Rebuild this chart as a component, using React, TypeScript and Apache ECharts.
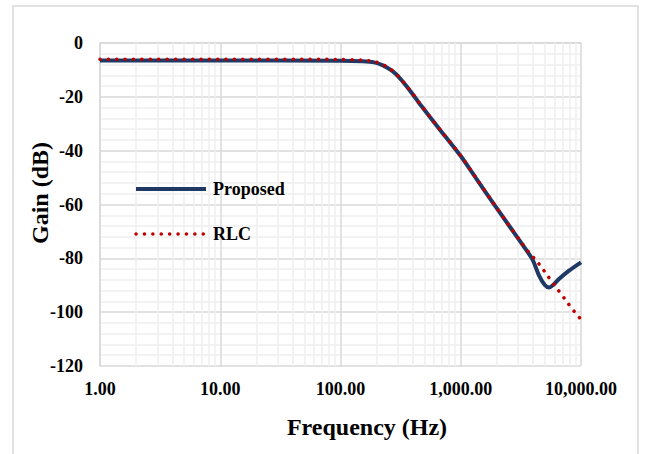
import React, { useEffect, useRef } from "react";
import * as echarts from "echarts";

const proposedFreq = [1, 10, 100, 150, 190, 225, 260, 290, 325, 362, 403, 447, 498, 548, 623, 707, 788, 1000, 1337, 1836, 2525, 3260, 3945, 4480, 5000, 5420, 5900, 6560, 7950, 10000];
const proposedGain = [-6.5, -6.5, -6.6, -6.8, -7.2, -8.3, -9.9, -11.6, -14.0, -16.6, -19.3, -22.1, -24.8, -27.2, -30.4, -33.5, -36.1, -42.0, -50.2, -59.1, -67.9, -74.9, -80.4, -86.4, -89.9, -90.8, -89.8, -87.7, -84.6, -81.5];

const rlcFreq = [1, 10, 100, 150, 166, 195, 224, 258, 290, 325, 362, 403, 447, 498, 548, 623, 707, 788, 1000, 1337, 1836, 2525, 3260, 3700, 4200, 4620, 5090, 6080, 7360, 8920, 10000];
const rlcGain = [-6.0, -6.0, -6.1, -6.3, -6.5, -7.0, -8.0, -9.6, -11.5, -13.9, -16.5, -19.2, -22.0, -24.7, -27.1, -30.3, -33.4, -36.0, -41.9, -50.1, -59.0, -67.8, -74.7, -77.9, -80.6, -82.9, -85.5, -90.2, -95.2, -100.1, -102.7];

const seriesNames = ["Proposed", "RLC"];
const minorFreqs = [2, 3, 4, 5, 6, 7, 8, 9, 20, 30, 40, 50, 60, 70, 80, 90, 200, 300, 400, 500, 600, 700, 800, 900, 2000, 3000, 4000, 5000, 6000, 7000, 8000, 9000];
const xTitle = "Frequency (Hz)";
const yTitle = "Gain (dB)";

const FONT = "'Liberation Serif', 'Times New Roman', serif";
const BLUE = "#1f3864";
const RED = "#c00000";
const DOTS = [0.1, 8.3];

function fmt(v: number) {
  return v.toLocaleString("en-US", { minimumFractionDigits: 2, maximumFractionDigits: 2 });
}

export default function App() {
  const ref = useRef<HTMLDivElement>(null);
  useEffect(() => {
    if (!ref.current) return;
    const chart = echarts.init(ref.current, null, { renderer: "svg" });
    chart.setOption({
      animation: false,
      backgroundColor: "#ffffff",
      grid: { left: 100, right: 64, top: 43, bottom: 88, containLabel: false },
      legend: {
        data: [
          { name: seriesNames[0], itemStyle: { opacity: 0 }, lineStyle: { color: BLUE, width: 4, type: "solid" } },
          { name: seriesNames[1], itemStyle: { opacity: 0 }, lineStyle: { color: RED, width: 3.5, type: DOTS, cap: "round" } },
        ],
        orient: "vertical",
        left: 134,
        top: 179,
        padding: 0,
        itemWidth: 70,
        itemHeight: 14,
        itemGap: 25,
        z: 10,
        selectedMode: false,
        textStyle: { fontFamily: FONT, fontWeight: "bold", fontSize: 18, color: "#000", lineHeight: 20, padding: [0, 0, 0, 2] },
      },
      xAxis: {
        type: "log",
        logBase: 10,
        min: 1,
        max: 10000,
        axisLine: { show: true, lineStyle: { color: "#d9d9d9", width: 1.5 } },
        axisTick: { show: false },
        splitLine: { show: true, lineStyle: { color: "#d9d9d9", width: 1.5 } },
        axisLabel: {
          fontFamily: FONT,
          fontWeight: "bold",
          fontSize: 18,
          color: "#000",
          margin: 14,
          formatter: (v: number) => fmt(v),
        },
      },
      yAxis: {
        type: "value",
        min: -120,
        max: 0,
        interval: 20,
        axisLine: { show: true, lineStyle: { color: "#d9d9d9", width: 1.5 } },
        axisTick: { show: false },
        splitLine: { show: true, lineStyle: { color: "#d9d9d9", width: 1.5 } },
        minorTick: { show: false, splitNumber: 5 },
        minorSplitLine: { show: true, lineStyle: { color: "#efefef", width: 1.5 } },
        axisLabel: {
          fontFamily: FONT,
          fontWeight: "bold",
          fontSize: 18,
          color: "#000",
          margin: 17,
        },
      },
      graphic: [
        {
          type: "rect",
          shape: { x: 13, y: 6, width: 625, height: 470 },
          style: { fill: "none", stroke: "#d9d9d9", lineWidth: 1.5 },
          silent: true,
          z: -10,
        },
        {
          type: "text",
          x: 40,
          y: 193,
          rotation: Math.PI / 2,
          style: {
            text: yTitle,
            fontFamily: FONT,
            fontWeight: "bold",
            fontSize: 24,
            fill: "#000",
            textAlign: "center",
            textVerticalAlign: "middle",
          },
        },
        {
          type: "text",
          x: 367,
          y: 427,
          style: {
            text: xTitle,
            fontFamily: FONT,
            fontWeight: "bold",
            fontSize: 24,
            fill: "#000",
            textAlign: "center",
            textVerticalAlign: "middle",
          },
        },
      ],
      series: [
        {
          name: "minor",
          type: "line",
          data: [],
          silent: true,
          z: 1,
          markLine: {
            silent: true,
            symbol: "none",
            z: 1,
            label: { show: false },
            animation: false,
            lineStyle: { color: "#efefef", width: 1.5, type: "solid" },
            data: minorFreqs.map((f) => ({ xAxis: f })),
          },
        },
        {
          name: seriesNames[0],
          type: "line",
          data: proposedFreq.map((f, i) => [f, proposedGain[i]]),
          symbol: "none",
          smooth: 0.3,
          z: 3,
          lineStyle: { color: BLUE, width: 4 },
          itemStyle: { color: BLUE },
        },
        {
          name: seriesNames[1],
          type: "line",
          data: rlcFreq.map((f, i) => [f, rlcGain[i]]),
          symbol: "none",
          smooth: 0.3,
          z: 4,
          lineStyle: { color: RED, width: 3.5, type: DOTS, cap: "round" },
          itemStyle: { color: RED },
        },
      ],
    });
    return () => chart.dispose();
  }, []);
  return <div ref={ref} style={{ position: "absolute", left: 0, top: 0, width: 645, height: 454 }} />;
}
